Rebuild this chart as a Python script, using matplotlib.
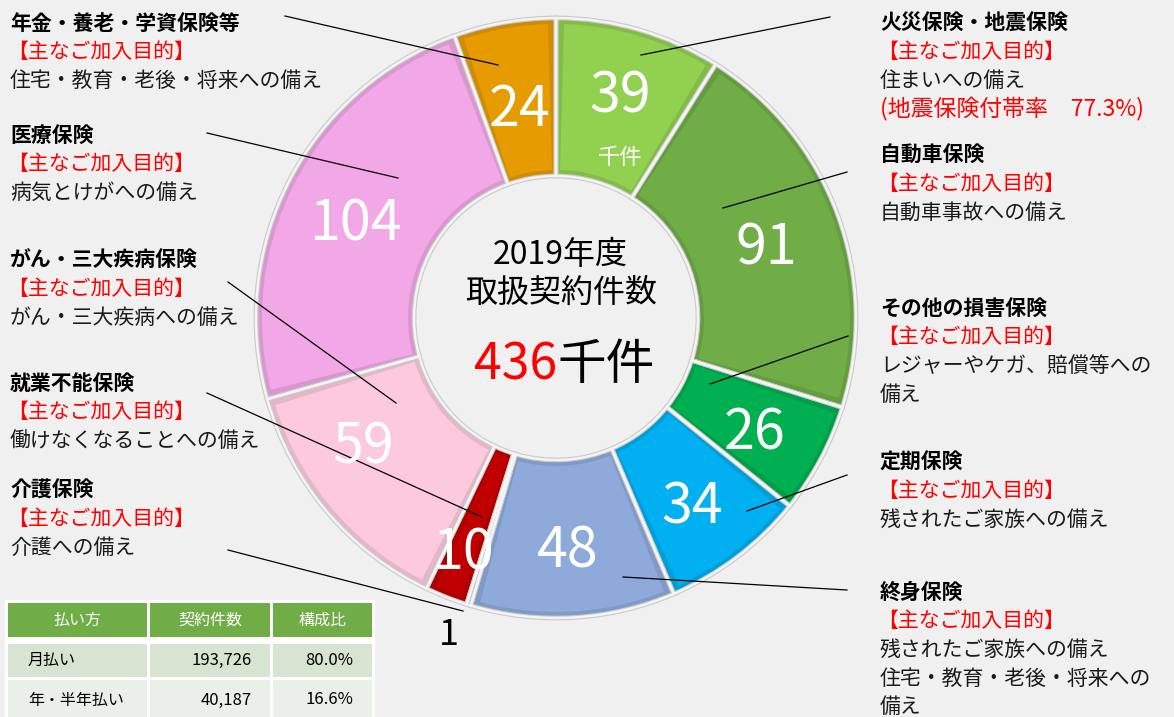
import numpy as np
import matplotlib.pyplot as plt
from matplotlib.patches import Rectangle, Wedge
from matplotlib.colors import to_rgb

plt.rcParams['font.family'] = ['Noto Sans CJK JP', 'DejaVu Sans']

# contracts by product (thousand), clockwise from the top
products = ['火災保険・地震保険', '自動車保険', 'その他の損害保険', '定期保険', '終身保険',
            '介護保険', '就業不能保険', 'がん・三大疾病保険', '医療保険', '年金・養老・学資保険等']
values = [39, 91, 26, 34, 48, 1, 10, 59, 104, 24]
colors = ['#92d050', '#70ad47', '#00b050', '#00b0f0', '#8eaadb',
          '#dcdcdc', '#c00000', '#fdcadd', '#f2a8e6', '#e69c00']

year_label = '2019年度'
center_title = '取扱契約件数'
total_unit = '千件'

# payment table
pay_header = ['払い方', '契約件数', '構成比']
pay_method = ['月払い', '年・半年払い']
pay_count = ['193,726', '40,187']
pay_share = ['80.0%', '16.6%']

purpose = '【主なご加入目的】'
left_blocks = [
    ('年金・養老・学資保険等', ['住宅・教育・老後・将来への備え'], 23),
    ('医療保険', ['病気とけがへの備え'], 135),
    ('がん・三大疾病保険', ['がん・三大疾病への備え'], 260),
    ('就業不能保険', ['働けなくなることへの備え'], 383),
    ('介護保険', ['介護への備え'], 490),
]
right_blocks = [
    ('火災保険・地震保険', ['住まいへの備え'], 23),
    ('自動車保険', ['自動車事故への備え'], 155),
    ('その他の損害保険', ['レジャーやケガ、賠償等への', '備え'], 308),
    ('定期保険', ['残されたご家族への備え'], 462),
    ('終身保険', ['残されたご家族への備え', '住宅・教育・老後・将来への', '備え'], 592),
]
quake_note = '(地震保険付帯率　77.3%)'

# leader lines (label side -> slice)
leaders = [((285, 16), (498, 65)), ((830, 17), (641, 55)), ((207, 133), (398, 178)),
           ((847, 172), (723, 208)), ((228, 282), (396, 403)), ((848, 336), (710, 384)),
           ((207, 393), (482, 517)), ((228, 550), (463, 611)), ((847, 475), (747, 511)),
           ((623, 577), (847, 590))]

W, H = 1174, 717
bg = '#f0f0f0'
fig = plt.figure(figsize=(W / 100, H / 100), dpi=100, facecolor=bg)
ax = fig.add_axes([0, 0, 1, 1])
ax.set_facecolor(bg)

cx, cy = 556, 318
r_out, r_in = 300, 142

def darker(c, f=0.9):
    return tuple(np.array(to_rgb(c)) * f)

# y axis is flipped below, so counterclock=True runs clockwise on screen
wedges, _ = ax.pie(values, colors=[darker(c) for c in colors], startangle=-90,
                   counterclock=True, radius=r_out, center=(cx, cy),
                   wedgeprops=dict(width=r_out - r_in, linewidth=0))
# lighter inner face gives the bevelled border
inset = 6
d = np.rad2deg(inset / ((r_out + r_in) / 2))
for w, c in zip(wedges, colors):
    if w.theta2 - w.theta1 > 2:
        ax.add_patch(Wedge(w.center, w.r - inset, w.theta1 + d, w.theta2 - d,
                           width=w.width - 2 * inset, facecolor=c, edgecolor='none'))
    else:
        w.set_facecolor(c)

# separators: grey rim with a light centre
ax.pie(values, startangle=-90, counterclock=True, radius=r_out, center=(cx, cy),
       wedgeprops=dict(width=r_out - r_in, facecolor='none', edgecolor='#c9c9c9', linewidth=3.4))
ax.pie(values, startangle=-90, counterclock=True, radius=r_out, center=(cx, cy),
       wedgeprops=dict(width=r_out - r_in, facecolor='none', edgecolor='#f4f4f4', linewidth=1.8))

# numbers on slices: radius and small angle shift for each label
label_r = [230, 222, 230, 234, 234, 335, 253, 232, 221, 211]
label_dth = [0, 2, 2, 1.5, 0.5, 1.7, 0, 6, -2.4, 0]
for i, (w, v) in enumerate(zip(wedges, values)):
    th = np.deg2rad((w.theta1 + w.theta2) / 2 + label_dth[i])
    r = label_r[i]
    x, y = cx + r * np.cos(th), cy + r * np.sin(th)
    if i == 5:
        ax.text(x, y, str(v), color='black', fontsize=26, ha='center', va='center')
    else:
        ax.text(x, y, str(v), color='white', fontsize=40, ha='center', va='center')
    if i == 0:
        ax.text(x, y + 60, total_unit, color='white', fontsize=16, ha='center', va='center')

# centre text
ax.text(560, 255, year_label, fontsize=23, ha='center', va='center')
ax.text(561, 293, center_title, fontsize=23, ha='center', va='center')
ax.text(557, 365, str(sum(values)), fontsize=36, color='red', ha='right', va='center')
ax.text(557, 365, total_unit, fontsize=35, color='black', ha='left', va='center')

# description blocks
def block(x, title, lines, y, extra=None):
    ax.text(x, y, title, fontsize=15, fontweight='bold', ha='left', va='center')
    ax.text(x - 3, y + 29, purpose, fontsize=15, color='red', ha='left', va='center')
    for k, s in enumerate(lines):
        ax.text(x, y + 58 + 28.5 * k, s, fontsize=15, color='#1a1a1a', ha='left', va='center')
    if extra:
        ax.text(x, y + 58 + 28.5 * len(lines), extra, fontsize=16.5, color='red',
                ha='left', va='center')

for t, ls, y in left_blocks:
    block(10, t, ls, y)
for t, ls, y in right_blocks:
    block(880, t, ls, y, quake_note if t.startswith('火災') else None)

for (x0, y0), (x1, y1) in leaders:
    ax.plot([x0, x1], [y0, y1], color='black', linewidth=0.9)

# payment table
col_edges = [(8, 147), (150, 270), (273, 372)]
row_edges = [(603, 637), (644, 677), (680, 720)]
row_colors = ['#70ad47', '#d8e4d2', '#eaf0e7']
ax.add_patch(Rectangle((5, 600), 370, 120, facecolor='white', edgecolor='none'))
for ri, (t0, t1) in enumerate(row_edges):
    for ci, (l0, l1) in enumerate(col_edges):
        ax.add_patch(Rectangle((l0, t0), l1 - l0, t1 - t0, facecolor=row_colors[ri],
                               edgecolor='none'))
ym = (row_edges[0][0] + row_edges[0][1]) / 2
for (l0, l1), h in zip(col_edges, pay_header):
    ax.text((l0 + l1) / 2, ym, h, fontsize=11.5, color='white', ha='center', va='center')
for k in range(len(pay_method)):
    ym = (row_edges[k + 1][0] + row_edges[k + 1][1]) / 2
    ax.text(col_edges[0][0] + 20, ym, pay_method[k], fontsize=11.5, ha='left', va='center')
    ax.text(col_edges[1][1] - 18, ym, pay_count[k], fontsize=12, ha='right', va='center')
    ax.text(col_edges[2][1] - 19, ym, pay_share[k], fontsize=12, ha='right', va='center')

ax.set_xlim(0, W)
ax.set_ylim(H, 0)
ax.set_aspect('auto')
ax.axis('off')

fig.savefig('out.png', dpi=100, facecolor=bg)
